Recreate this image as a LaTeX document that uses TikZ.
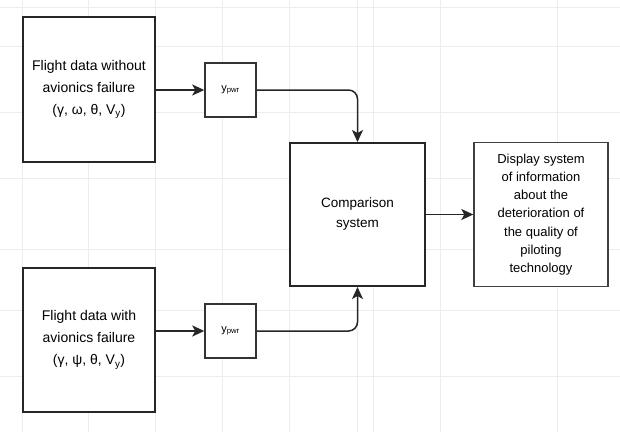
\documentclass[tikz,border=0pt]{standalone}
\usepackage{fontspec}
\setmainfont{Liberation Sans}
\usetikzlibrary{arrows.meta}
\begin{document}
\begin{tikzpicture}[x=1pt,y=-1pt,
  thickbox/.style={draw=black!85,line width=2pt,fill=white,align=center,inner sep=2pt},
  smallbox/.style={draw=black!80,line width=1.5pt,fill=white,minimum width=51pt,minimum height=54pt,inner sep=0pt,font=\fontsize{11}{13}\selectfont},
  thinbox/.style={draw=black!75,line width=1.4pt,fill=white,align=center,inner sep=1pt},
  conn/.style={draw=black!85,line width=1.5pt,-{Stealth[length=12pt,width=11pt,inset=3pt]}},
  gridline/.style={draw=black!7,line width=0.8pt}]
\useasboundingbox (0,0) rectangle (620,432);
\fill[white] (0,0) rectangle (620,432);
% faint grid
\foreach \x in {22,88,155,222,289,357,373,440,557} {\draw[gridline] (\x,0) -- (\x,432);}
\foreach \y in {7,46,112,178,249,310,376} {\draw[gridline] (0,\y) -- (620,\y);}
% nodes
\node[thickbox,minimum width=132pt,minimum height=145pt,font=\fontsize{14}{22}\selectfont] (b1) at (89,89.5)
  {Flight data without\\avionics failure\\(γ, ω, θ, V\textsubscript{y})};
\node[thickbox,minimum width=132pt,minimum height=144pt,font=\fontsize{14}{22}\selectfont] (b2) at (89,340)
  {Flight data with\\avionics failure\\(γ, ψ, θ, V\textsubscript{y})};
\node[smallbox] (s1) at (230.5,90) {y\textsubscript{pwr}};
\node[smallbox] (s2) at (230.5,331) {y\textsubscript{pwr}};
\node[thickbox,minimum width=135pt,minimum height=143pt,font=\fontsize{13.5}{20}\selectfont] (comp) at (357.5,214.5)
  {Comparison\\system};
\node[thinbox,minimum width=134pt,minimum height=144pt,font=\fontsize{13}{18.2}\selectfont] (disp) at (541,214.5)
  {Display system\\of information\\about the\\deterioration of\\the quality of\\piloting\\technology};
% connectors
\draw[conn] (b1.east |- s1.west) -- (s1.west);
\draw[conn,line width=2pt] (b2.east |- s2.west) -- (s2.west);
\draw[conn,rounded corners=9pt] (s1.east) -| (comp.north);
\draw[conn,rounded corners=9pt] (s2.east) -| (comp.south);
\draw[conn] (comp.east) -- (disp.west);
\end{tikzpicture}
\end{document}
